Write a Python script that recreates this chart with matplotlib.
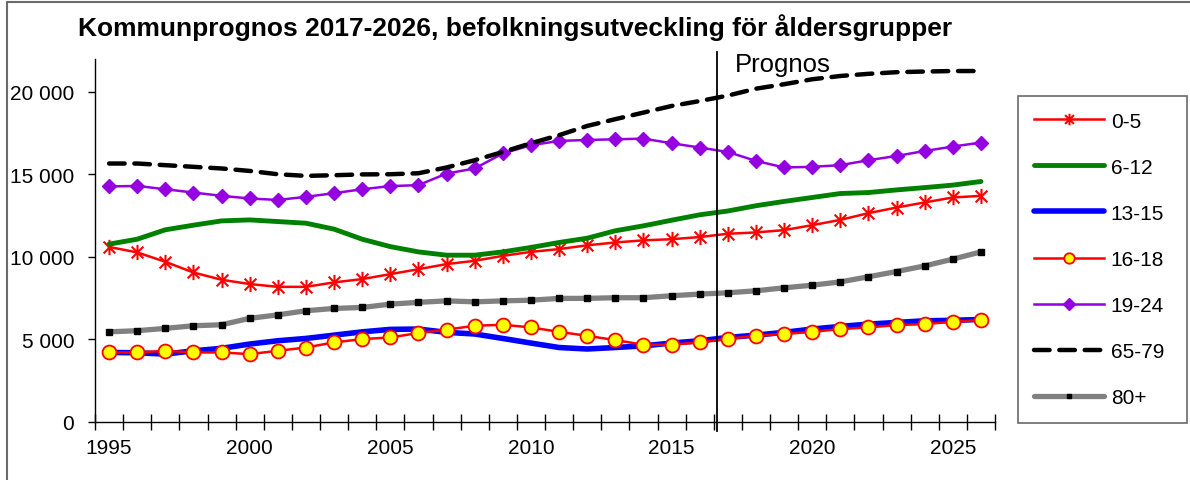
#Libraries
import numpy as np
import matplotlib
matplotlib.use('Agg')
import matplotlib.pyplot as plt
from matplotlib.path import Path
from matplotlib.patches import Rectangle
from matplotlib.ticker import FuncFormatter, FixedLocator

plt.rcParams['font.family']=['Liberation Sans','DejaVu Sans']

#Data
years=list(range(1995,2027))
age_0_5=[10600,10270,9700,9050,8610,8350,8180,8180,8450,8650,8950,
         9250,9560,9760,10060,10300,10470,10700,10870,11000,11070,11200,
         11400,11480,11620,11920,12240,12650,12990,13300,13600,13700]
age_6_12=[10770,11070,11640,11920,12180,12240,12140,12040,11680,11070,10620,
          10300,10100,10100,10300,10570,10870,11130,11580,11880,12220,12550,
          12780,13100,13360,13600,13840,13900,14060,14200,14350,14570]
age_13_15=[4200,4180,4100,4300,4450,4710,4910,5050,5250,5450,5600,
           5620,5420,5320,5050,4770,4500,4410,4500,4600,4770,4910,
           5110,5250,5420,5620,5780,5920,6020,6120,6150,6200]
age_16_18=[4200,4200,4300,4200,4200,4100,4300,4500,4810,5010,5110,
           5380,5580,5820,5880,5720,5450,5210,4950,4670,4670,4810,
           5030,5210,5320,5450,5620,5720,5860,5920,6060,6160]
age_19_24=[14270,14300,14100,13900,13700,13540,13450,13640,13860,14100,14290,
           14350,15050,15360,16270,16770,17030,17090,17130,17170,16890,16630,
           16360,15820,15420,15460,15560,15860,16120,16420,16690,16930]
age_65_79=[15660,15660,15560,15460,15360,15210,15010,14910,14950,15000,15010,
           15070,15420,15860,16360,16890,17380,17940,18350,18750,19150,19450,
           19780,20200,20470,20770,20970,21100,21200,21240,21270,21270]
age_80=[5450,5520,5660,5820,5880,6270,6480,6730,6870,6930,7130,
        7240,7330,7270,7330,7370,7480,7480,7520,7520,7640,7740,
        7820,7940,8120,8280,8480,8790,9110,9450,9860,10300]
labels=['0-5','6-12','13-15','16-18','19-24','65-79','80+']
label_years=[1995,2000,2005,2010,2015,2020,2025]
prognos_x=2016.6

#Asterisk marker (x + vertical bar)
star=Path([(-1,-1),(1,1),(-1,1),(1,-1),(0,-1.3),(0,1.3)],
          [Path.MOVETO,Path.LINETO,Path.MOVETO,Path.LINETO,Path.MOVETO,Path.LINETO])

fig=plt.figure(figsize=(11.9,4.81),dpi=100)
ax=fig.add_axes([95/1190,1-422.7/481,900/1190,(422.7-60)/481])

#Chart area border (left and top visible)
fig.patches.append(Rectangle((7/1190,-0.2),1.2,1.2-2.5/481,transform=fig.transFigure,
                             fill=False,edgecolor='#6b6b6b',linewidth=1.5))

ax.plot(years,age_0_5,color='red',linewidth=1.8,marker=star,markersize=11,
        markeredgewidth=1.5,markeredgecolor='red',label=labels[0])
ax.plot(years,age_6_12,color='#008000',linewidth=3.5,solid_capstyle='round',label=labels[1])
ax.plot(years,age_13_15,color='#0000FF',linewidth=4,solid_capstyle='round',label=labels[2])
ax.plot(years,age_16_18,color='red',linewidth=1.8,marker='o',markersize=10,
        markerfacecolor='#FFFF00',markeredgecolor='red',markeredgewidth=1.3,label=labels[3])
ax.plot(years,age_19_24,color='#9400E0',linewidth=1.8,marker='D',markersize=7.5,
        markeredgecolor='#9400E0',label=labels[4])
ax.plot(years,age_65_79,color='black',linewidth=3.2,linestyle=(0,(3.5,2.2)),
        dash_capstyle='round',label=labels[5])
ax.plot(years,age_80,color='#808080',linewidth=3.8,marker='s',markersize=4,
        markerfacecolor='black',markeredgecolor='black',solid_capstyle='round',label=labels[6])

#Prognos line
ax.axvline(prognos_x,ymin=-0.027,ymax=1.02,color='black',linewidth=1.3,clip_on=False)
ax.text(prognos_x+0.65,21250,'Prognos',fontsize=18.5,ha='left',va='baseline')

#Axes
ax.set_xlim(1994.5,2026.5)
ax.set_ylim(0,22000)
for s in ['top','right']:
    ax.spines[s].set_visible(False)
for s in ['left','bottom']:
    ax.spines[s].set_linewidth(1)
ax.set_yticks([0,5000,10000,15000,20000])
ax.yaxis.set_major_formatter(FuncFormatter(lambda v,p: '{:,.0f}'.format(v).replace(',',' ')))
ax.tick_params(axis='y',direction='out',length=5,width=1,pad=10,labelsize=15)
ax.xaxis.set_major_locator(FixedLocator(np.arange(1994.5,2027,1)))
ax.xaxis.set_major_formatter(FuncFormatter(lambda v,p: ''))
ax.xaxis.set_minor_locator(FixedLocator(label_years))
ax.xaxis.set_minor_formatter(FuncFormatter(lambda v,p: str(int(round(v)))))
ax.tick_params(axis='x',which='major',direction='inout',length=11,width=1)
ax.tick_params(axis='x',which='minor',length=0,pad=12,labelsize=15)

#Title
fig.text(515/1190,1-28/481,'Kommunprognos 2017-2026, befolkningsutveckling för åldersgrupper',
         fontsize=19,fontweight='bold',ha='center',va='center')

#Legend
leg=ax.legend(loc='upper left',bbox_to_anchor=(1018/1190,1-422/481,169/1190,325/481),
              bbox_transform=fig.transFigure,mode='expand',frameon=True,fancybox=False,
              edgecolor='#444444',fontsize=15,handlelength=3.4,handletextpad=0.3,
              labelspacing=1.3,borderpad=0.75,borderaxespad=0,markerscale=0.75)
leg.get_frame().set_linewidth(1.2)

fig.savefig('out.png',dpi=100)
